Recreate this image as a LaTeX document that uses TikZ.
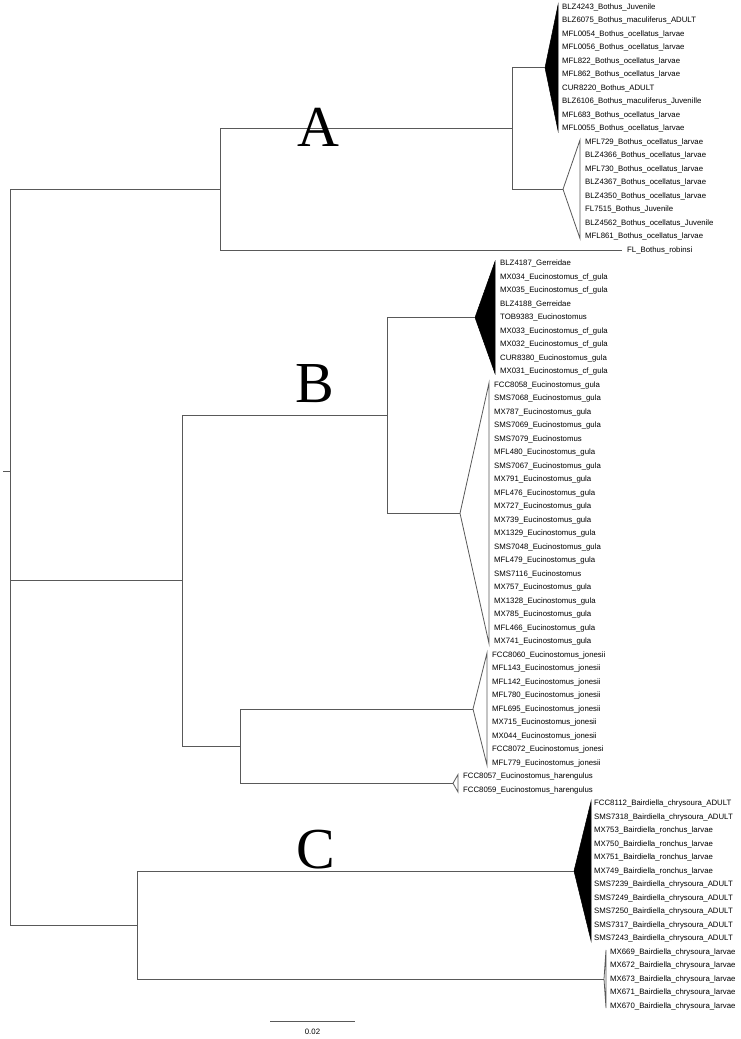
\documentclass[tikz,border=0pt]{standalone}
\usepackage{fontspec}
\setmainfont{Liberation Sans}
\newfontfamily\cladefont{Liberation Serif}
\usetikzlibrary{calc}

\tikzset{
  branch/.style={draw=black!65,line width=.8pt},
  taxon/.style={anchor=west,inner sep=0pt,font=\fontsize{7.8}{9}\selectfont},
  cladeletter/.style={anchor=base,inner sep=0pt,font=\cladefont\fontsize{58}{58}\selectfont},
  filledclade/.style={draw=black,fill=black,line width=.5pt},
  openclade/.style={draw=black!65,fill=white,line width=.8pt},
}

\begin{document}
\begin{tikzpicture}[x=1pt,y=-1pt]
  \useasboundingbox (0,0) rectangle (740,1039);
  \foreach \nm/\tipx/\edgex/\ra/\rb/\sty in {tA1/545/558/0/9/filledclade,tA2/563/580/10/17/openclade,
      tB1/475/495/19/27/filledclade,tB2/460/489/28/47/openclade,tB3/473/487/48/56/openclade,
      tB4/453/458/57/58/openclade,tC1/574/591/59/69/filledclade,tC2/604/606/70/74/openclade}{
    \coordinate (\nm) at (\tipx,{7+13.5*(\ra+\rb)/2});
    \draw[\sty] (\nm) -- (\edgex,{7+13.5*\ra-2}) -- (\edgex,{7+13.5*\rb+2}) -- cycle;
  }
  \foreach \t [count=\r from 0] in {BLZ4243\_Bothus\_Juvenile,BLZ6075\_Bothus\_maculiferus\_ADULT,
      MFL0054\_Bothus\_ocellatus\_larvae,MFL0056\_Bothus\_ocellatus\_larvae,MFL822\_Bothus\_ocellatus\_larvae,
      MFL862\_Bothus\_ocellatus\_larvae,CUR8220\_Bothus\_ADULT,BLZ6106\_Bothus\_maculiferus\_Juvenille,
      MFL683\_Bothus\_ocellatus\_larvae,MFL0055\_Bothus\_ocellatus\_larvae}
    \node[taxon] (tx\r) at (562,{7+13.5*\r}) {\t};
  \foreach \t [count=\r from 10] in {MFL729\_Bothus\_ocellatus\_larvae,BLZ4366\_Bothus\_ocellatus\_larvae,
      MFL730\_Bothus\_ocellatus\_larvae,BLZ4367\_Bothus\_ocellatus\_larvae,BLZ4350\_Bothus\_ocellatus\_larvae,
      FL7515\_Bothus\_Juvenile,BLZ4562\_Bothus\_ocellatus\_Juvenile,MFL861\_Bothus\_ocellatus\_larvae}
    \node[taxon] (tx\r) at (585,{7+13.5*\r}) {\t};
  \node[taxon] (robinsi) at (627,250) {FL\_Bothus\_robinsi};
  \foreach \t [count=\r from 19] in {BLZ4187\_Gerreidae,MX034\_Eucinostomus\_cf\_gula,MX035\_Eucinostomus\_cf\_gula,
      BLZ4188\_Gerreidae,TOB9383\_Eucinostomus,MX033\_Eucinostomus\_cf\_gula,MX032\_Eucinostomus\_cf\_gula,
      CUR8380\_Eucinostomus\_gula,MX031\_Eucinostomus\_cf\_gula}
    \node[taxon] (tx\r) at (500,{7+13.5*\r}) {\t};
  \foreach \t [count=\r from 28] in {FCC8058\_Eucinostomus\_gula,SMS7068\_Eucinostomus\_gula,MX787\_Eucinostomus\_gula,
      SMS7069\_Eucinostomus\_gula,SMS7079\_Eucinostomus,MFL480\_Eucinostomus\_gula,SMS7067\_Eucinostomus\_gula,
      MX791\_Eucinostomus\_gula,MFL476\_Eucinostomus\_gula,MX727\_Eucinostomus\_gula,MX739\_Eucinostomus\_gula,
      MX1329\_Eucinostomus\_gula,SMS7048\_Eucinostomus\_gula,MFL479\_Eucinostomus\_gula,SMS7116\_Eucinostomus,
      MX757\_Eucinostomus\_gula,MX1328\_Eucinostomus\_gula,MX785\_Eucinostomus\_gula,MFL466\_Eucinostomus\_gula,
      MX741\_Eucinostomus\_gula}
    \node[taxon] (tx\r) at (494,{7+13.5*\r}) {\t};
  \foreach \t [count=\r from 48] in {FCC8060\_Eucinostomus\_jonesii,MFL143\_Eucinostomus\_jonesii,
      MFL142\_Eucinostomus\_jonesii,MFL780\_Eucinostomus\_jonesii,MFL695\_Eucinostomus\_jonesii,
      MX715\_Eucinostomus\_jonesii,MX044\_Eucinostomus\_jonesii,FCC8072\_Eucinostomus\_jonesi,
      MFL779\_Eucinostomus\_jonesii}
    \node[taxon] (tx\r) at (492,{7+13.5*\r}) {\t};
  \foreach \t [count=\r from 57] in {FCC8057\_Eucinostomus\_harengulus,FCC8059\_Eucinostomus\_harengulus}
    \node[taxon] (tx\r) at (463,{7+13.5*\r}) {\t};
  \foreach \t [count=\r from 59] in {FCC8112\_Bairdiella\_chrysoura\_ADULT,SMS7318\_Bairdiella\_chrysoura\_ADULT,
      MX753\_Bairdiella\_ronchus\_larvae,MX750\_Bairdiella\_ronchus\_larvae,MX751\_Bairdiella\_ronchus\_larvae,
      MX749\_Bairdiella\_ronchus\_larvae,SMS7239\_Bairdiella\_chrysoura\_ADULT,SMS7249\_Bairdiella\_chrysoura\_ADULT,
      SMS7250\_Bairdiella\_chrysoura\_ADULT,SMS7317\_Bairdiella\_chrysoura\_ADULT,SMS7243\_Bairdiella\_chrysoura\_ADULT}
    \node[taxon] (tx\r) at (594,{7+13.5*\r}) {\t};
  \foreach \t [count=\r from 70] in {MX669\_Bairdiella\_chrysoura\_larvae,MX672\_Bairdiella\_chrysoura\_larvae,
      MX673\_Bairdiella\_chrysoura\_larvae,MX671\_Bairdiella\_chrysoura\_larvae,MX670\_Bairdiella\_chrysoura\_larvae}
    \node[taxon] (tx\r) at (610,{7+13.5*\r}) {\t};

  \coordinate (nAsub) at (512,128.5);
  \coordinate (nA) at (220,189.25);
  \coordinate (nBsub) at (387,415.4);
  \coordinate (nBlow) at (240,746.1);
  \coordinate (nB) at (182,580.75);
  \coordinate (nC) at (137,925);
  \coordinate (root) at (10,471);
  \foreach \p/\c in {root/nA,root/nB,root/nC,nA/nAsub,nAsub/tA1,nAsub/tA2,nB/nBsub,nB/nBlow,
      nBsub/tB1,nBsub/tB2,nBlow/tB3,nBlow/tB4,nC/tC1,nC/tC2}
    \draw[branch] (\p) |- (\c);
  \draw[branch] (nA) |- ([xshift=-5pt]robinsi.west);
  \draw[branch] (root) -- ++(-7,0);

  \node[cladeletter] (labA) at (318,146) {A};
  \node[cladeletter] (labB) at (315,402) {B};
  \node[cladeletter] (labC) at (316,868) {C};

  \coordinate (sbL) at (270,1021);
  \coordinate (sbR) at (355,1021);
  \draw[branch] (sbL) -- (sbR);
  \node[taxon,anchor=center] (sblabel) at ($(sbL)!.5!(sbR)+(0,11)$) {0.02};
\end{tikzpicture}
\end{document}
